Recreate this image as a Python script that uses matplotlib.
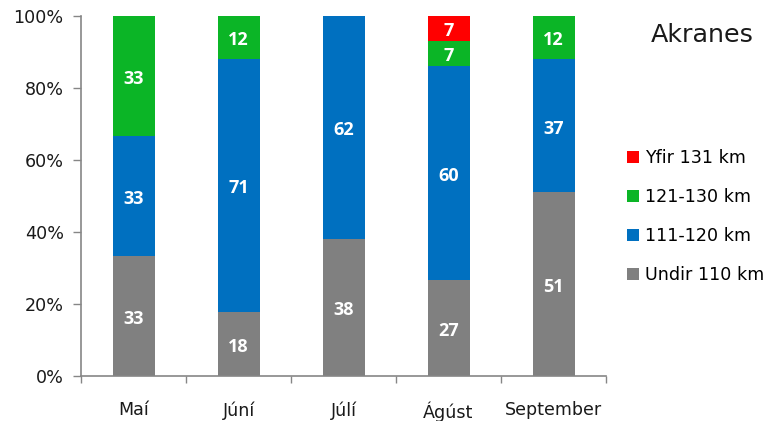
import matplotlib
matplotlib.use("Agg")
import matplotlib.pyplot as plt
import numpy as np
from matplotlib.patches import Patch

plt.rcParams['font.family'] = ['DejaVu Sans']

months = ["Maí", "Júní", "Júlí", "Ágúst", "September"]
series_names = ["Undir 110 km", "111-120 km", "121-130 km", "Yfir 131 km"]
undir_110 = [33, 18, 38, 27, 51]
s111_120 = [33, 71, 62, 60, 37]
s121_130 = [33, 12, 0, 7, 12]
yfir_131 = [0, 0, 0, 7, 0]
colors = ["#808080", "#0070C0", "#0BB526", "#FF0000"]
yticks = [0, 20, 40, 60, 80, 100]

data = np.array([undir_110, s111_120, s121_130, yfir_131], dtype=float)
totals = data.sum(axis=0)
pct = data / totals * 100

fig = plt.figure(figsize=(7.68, 4.21), dpi=100)
ax = fig.add_axes([81/768, 1-376/421, (606-81)/768, (376-16)/421])

x = np.arange(len(months))
bottom = np.zeros(len(months))
for i in range(len(series_names)):
    ax.bar(x, pct[i], bottom=bottom, width=0.4, color=colors[i], edgecolor='none')
    for j in range(len(months)):
        if data[i, j] > 0:
            ax.annotate(f"{int(data[i, j])}", (x[j], bottom[j] + pct[i, j] / 2),
                        xytext=(0, -2), textcoords='offset points',
                        ha='center', va='center', color='white', fontsize=13,
                        fontweight='bold', family=['Open Sans', 'DejaVu Sans'])
    bottom += pct[i]

ax.set_xlim(-0.5, len(months) - 0.5)
ax.set_ylim(0, 100)
ax.set_yticks(yticks)
ax.set_yticklabels([f"{v}%" for v in yticks])
ax.set_xticks(x)
ax.set_xticklabels(months)
ax.set_xticks(np.arange(-0.5, len(months)), minor=True)
ax.tick_params(axis='x', which='major', length=0, pad=18, labelsize=12.6, labelcolor='#1a1a1a')
ax.tick_params(axis='x', which='minor', length=5, width=1, color='#868686', direction='out')
ax.tick_params(axis='y', length=5.5, width=1, color='#868686', direction='out', labelsize=12.6,
               labelcolor='#1a1a1a', pad=7)
for s in ['top', 'right']:
    ax.spines[s].set_visible(False)
for s in ['left', 'bottom']:
    ax.spines[s].set_color('#868686')
    ax.spines[s].set_linewidth(1.2)

fig.text(702.5/768, 1-42/421, "Akranes", ha='center', va='baseline', fontsize=18.3, color='#1a1a1a')

handles = [Patch(facecolor=colors[i], edgecolor='none') for i in range(3, -1, -1)]
labels = [series_names[i] for i in range(3, -1, -1)]
fig.legend(handles, labels, loc='upper left', bbox_to_anchor=(627/768, 1-149/421),
           frameon=False, fontsize=12.6, handlelength=0.68, handleheight=0.68,
           handletextpad=0.35, labelspacing=1.2, borderaxespad=0, borderpad=0)

fig.savefig("out.png", dpi=100)
